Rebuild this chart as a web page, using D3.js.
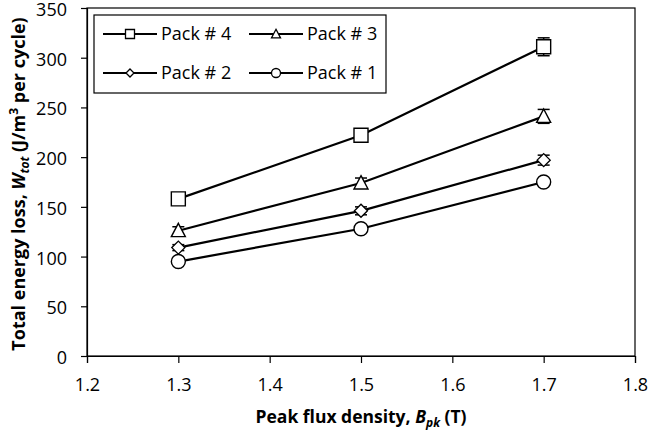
<!DOCTYPE html>
<html><head><meta charset="utf-8">
<script src="https://cdn.jsdelivr.net/npm/d3@7"></script>
<style>body{margin:0;background:#fff}svg{display:block}text{font-family:"Open Sans",sans-serif;fill:#000}</style>
</head><body><svg id="c" width="650" height="439"></svg>
<script>
const xVals = [1.3, 1.5, 1.7];
const seriesNames = ["Pack # 4", "Pack # 3", "Pack # 2", "Pack # 1"];
const pack4 = [158, 222, 311];
const pack3 = [126, 174, 241];
const pack2 = [109, 146, 197];
const pack1 = [95, 128, 175];
const err4 = [2, 2, 9];
const err3 = [4, 5, 7];
const err2 = [3, 4, 5];
const err1 = [2, 2, 3];
const symbols = ["square", "triangle", "diamond", "circle"];
const xTicks = [1.2, 1.3, 1.4, 1.5, 1.6, 1.7, 1.8];
const yTicks = [0, 50, 100, 150, 200, 250, 300, 350];

const series = [
  {name: seriesNames[0], vals: pack4, err: err4, sym: symbols[0]},
  {name: seriesNames[1], vals: pack3, err: err3, sym: symbols[1]},
  {name: seriesNames[2], vals: pack2, err: err2, sym: symbols[2]},
  {name: seriesNames[3], vals: pack1, err: err1, sym: symbols[3]}
];

const svg = d3.select("#c");
const L = 87, R = 635, T = 8, B = 356;
const x = d3.scaleLinear().domain([1.2, 1.8]).range([L, R]);
const y = d3.scaleLinear().domain([0, 350]).range([B, T]);

// frame
svg.append("rect").attr("x", L).attr("y", T).attr("width", R - L).attr("height", B - T)
  .attr("fill", "none").attr("stroke", "#000").attr("stroke-width", 1.2);

const xa = svg.append("g").attr("transform", `translate(0,${B})`)
  .call(d3.axisBottom(x).tickValues(xTicks).tickFormat(d3.format(".1f")).tickSize(7).tickPadding(15));
const ya = svg.append("g").attr("transform", `translate(${L},0)`)
  .call(d3.axisLeft(y).tickValues(yTicks).tickSize(6).tickPadding(14));
[xa, ya].forEach(a => {
  a.select(".domain").attr("stroke", "#000").attr("stroke-width", 1.2);
  a.selectAll(".tick line").attr("stroke", "#000").attr("stroke-width", 1.2);
  a.selectAll(".tick text").style("font-size", "18px").style("font-family", '"Open Sans",sans-serif').attr("fill", "#000");
});
ya.selectAll(".tick text").attr("dy", "0.42em");

// symbol path generator
function symPath(s, size) {
  const h = size / 2;
  if (s === "square") return `M${-h},${-h}H${h}V${h}H${-h}Z`;
  if (s === "triangle") return `M0,${-h*1.05}L${h},${h*0.85}L${-h},${h*0.85}Z`;
  if (s === "diamond") return `M0,${-h}L${h},0L0,${h}L${-h},0Z`;
  return d3.arc()({innerRadius: 0, outerRadius: h, startAngle: 0, endAngle: 2 * Math.PI});
}

const line = d3.line().x((d, i) => x(xVals[i])).y(d => y(d));
series.forEach(s => {
  const g = svg.append("g");
  s.vals.forEach((v, i) => {
    const cx = x(xVals[i]);
    const e = s.err[i];
    g.append("line").attr("x1", cx).attr("x2", cx).attr("y1", y(v + e)).attr("y2", y(v - e))
      .attr("stroke", "#000").attr("stroke-width", 1.5);
    [v + e, v - e].forEach(w => g.append("line").attr("x1", cx - 6).attr("x2", cx + 6)
      .attr("y1", y(w)).attr("y2", y(w)).attr("stroke", "#000").attr("stroke-width", 1.5));
  });
  g.append("path").attr("d", line(s.vals)).attr("fill", "none").attr("stroke", "#000").attr("stroke-width", 2.2);
  s.vals.forEach((v, i) => {
    g.append("path").attr("d", symPath(s.sym, s.sym === "diamond" ? 13 : 14))
      .attr("transform", `translate(${x(xVals[i])},${y(v)})`)
      .attr("fill", "#fff").attr("stroke", "#000").attr("stroke-width", 1.4);
  });
});

// legend
const lg = svg.append("g");
lg.append("rect").attr("x", 94).attr("y", 15).attr("width", 292).attr("height", 78)
  .attr("fill", "#fff").attr("stroke", "#000").attr("stroke-width", 1.2);
const pos = [[103, 34], [249, 34], [103, 73], [249, 73]];
series.forEach((s, i) => {
  const [lx, ly] = pos[i];
  lg.append("line").attr("x1", lx).attr("x2", lx + 54).attr("y1", ly).attr("y2", ly)
    .attr("stroke", "#000").attr("stroke-width", 2.2);
  lg.append("path").attr("d", symPath(s.sym, s.sym === "diamond" ? 8 : 9))
    .attr("transform", `translate(${lx + 27},${ly})`)
    .attr("fill", "#fff").attr("stroke", "#000").attr("stroke-width", 1.3);
  lg.append("text").attr("x", lx + 58).attr("y", ly).attr("dy", "0.35em")
    .style("font-size", "18px").text(s.name);
});

// axis titles
const xt = svg.append("text").attr("x", (L + R) / 2).attr("y", 423).attr("text-anchor", "middle")
  .style("font-size", "17.5px").style("font-weight", "bold");
xt.append("tspan").text("Peak flux density, ");
xt.append("tspan").style("font-style", "italic").text("B");
xt.append("tspan").style("font-style", "italic").style("font-size", "12px").attr("dy", 4).text("pk");
xt.append("tspan").attr("dy", -4).text(" (T)");

const yt = svg.append("text").attr("transform", `translate(25,${(T + B) / 2 + 2}) rotate(-90)`)
  .attr("text-anchor", "middle").style("font-size", "18px").style("font-weight", "bold");
yt.append("tspan").text("Total energy loss, ");
yt.append("tspan").style("font-style", "italic").text("W");
yt.append("tspan").style("font-style", "italic").style("font-size", "12px").attr("dy", 4).text("tot");
yt.append("tspan").attr("dy", -4).text(" (J/m");
yt.append("tspan").style("font-size", "12px").attr("dy", -7).text("3");
yt.append("tspan").attr("dy", 7).text(" per cycle)");
</script></body></html>
